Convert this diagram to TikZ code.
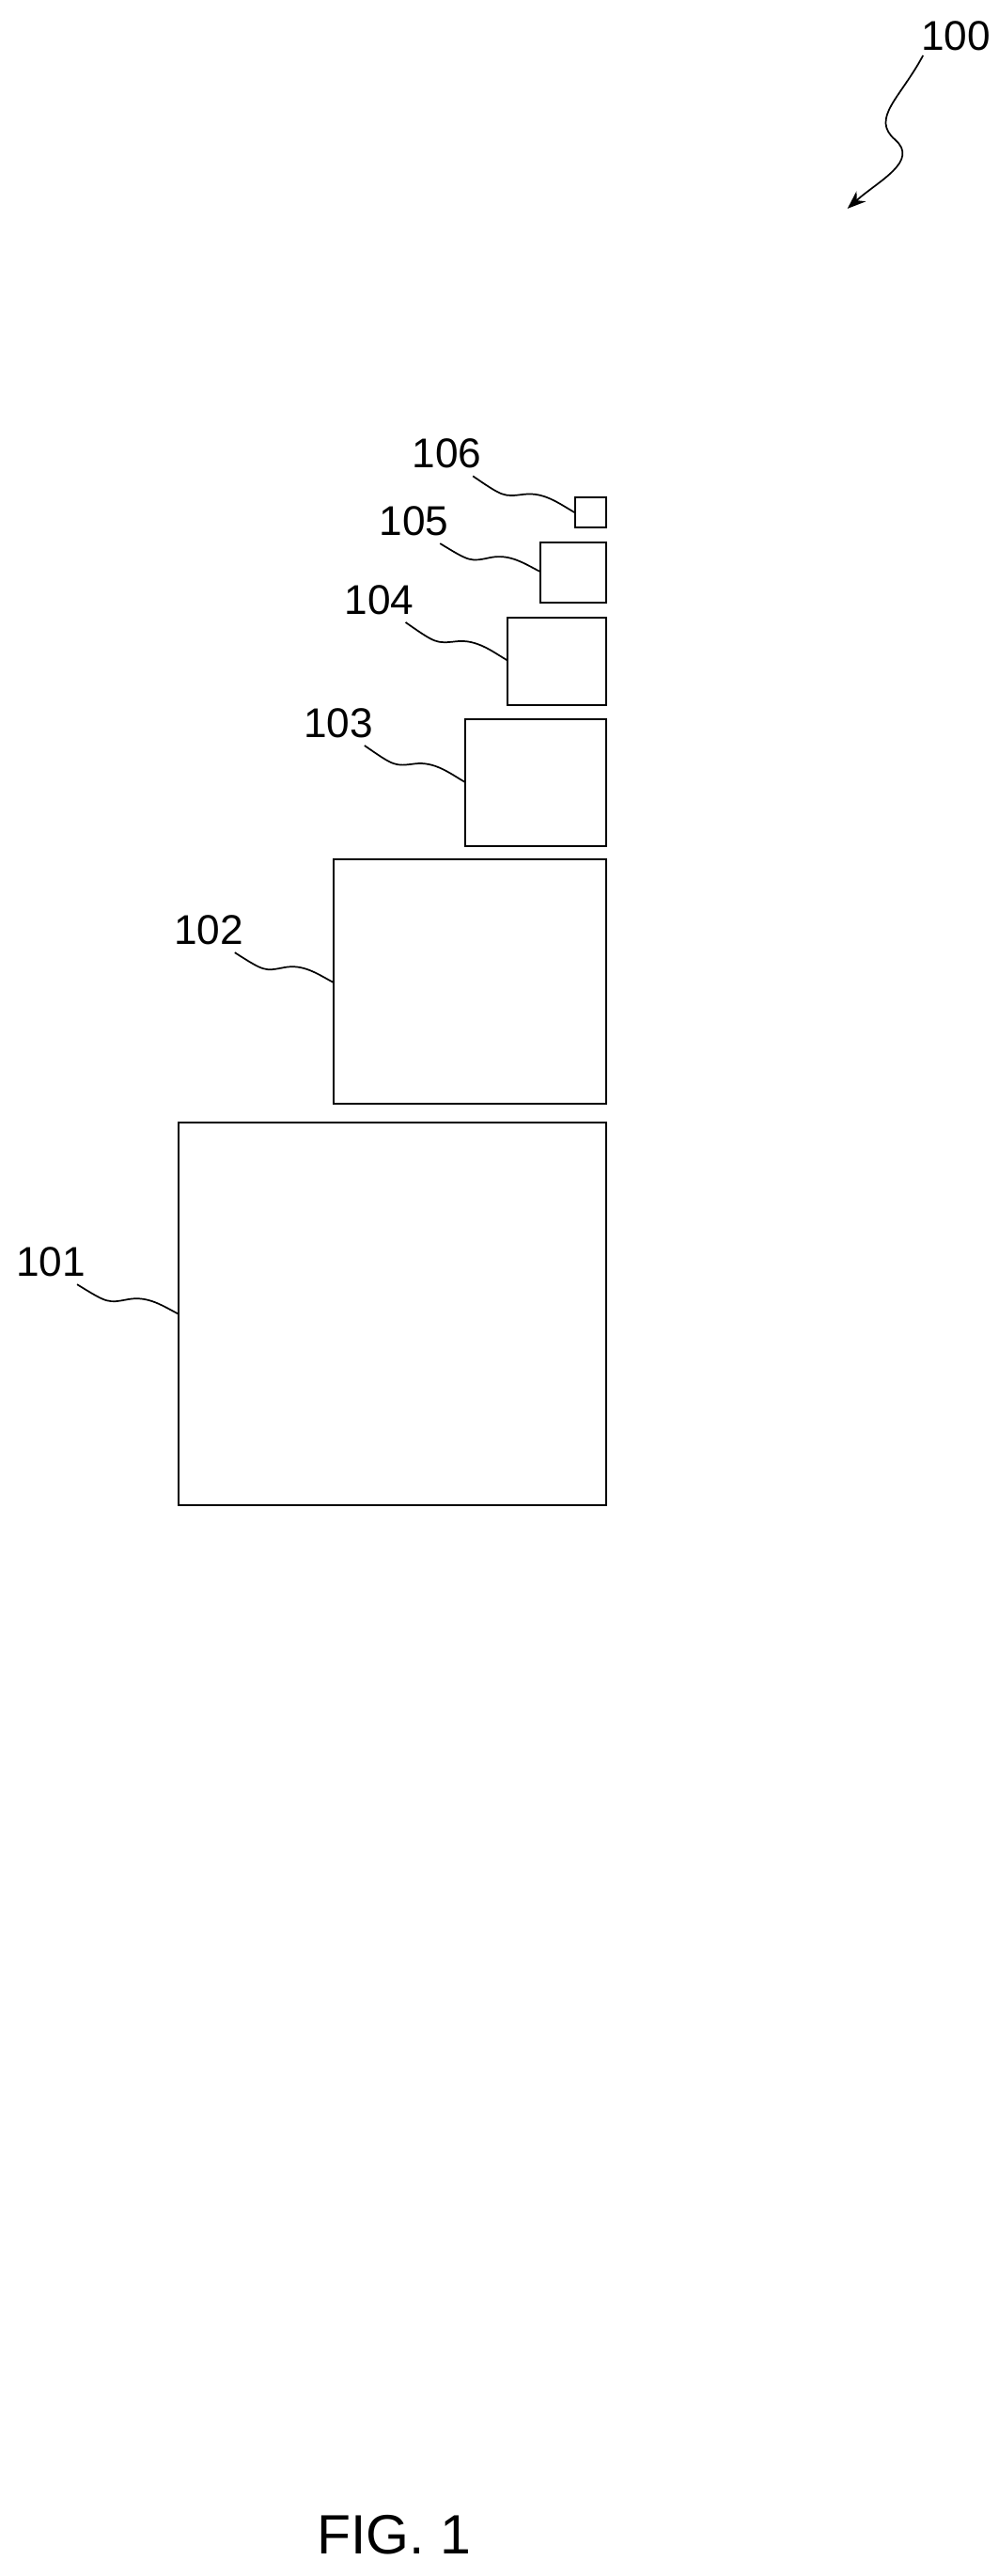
\documentclass[tikz,border=0pt]{standalone}
\usepackage{fontspec}
\setmainfont{Liberation Sans}
\usetikzlibrary{arrows.meta, calc}

\tikzset{
    box/.style={draw, line width=1.6pt, inner sep=0pt},
    refnum/.style={font=\fontsize{36}{40}\selectfont, inner sep=1pt},
    lead/.style={line width=1.4pt}
}
% wavy leader line from a label to its part
\newcommand{\leader}[2]{%
    \draw [lead] (#1) .. controls ($(#1)!0.3!(#2)+(0,6)$) and ($(#1)!0.3!(#2)+(0,6)$) .. ($(#1)!0.5!(#2)$)
        .. controls ($(#1)!0.7!(#2)+(0,-6)$) and ($(#1)!0.85!(#2)+(0,-2)$) .. (#2);}

\begin{document}
\begin{tikzpicture}[x=0.05cm, y=-0.05cm]
    \useasboundingbox (0,0) rectangle (608,1568);
    % parts
    \draw [box] (109,683) rectangle (369,916);
    \draw [box] (203,523) rectangle (369,672);
    \draw [box] (283,438) rectangle (369,515);
    \draw [box] (309,376) rectangle (369,429);
    \draw [box] (329,330) rectangle (369,367);
    \draw [box] (350,303) rectangle (369,321);
    \coordinate (p101) at (109,800);
    \coordinate (p102) at (203,598);
    \coordinate (p103) at (283,476);
    \coordinate (p104) at (309,402);
    \coordinate (p105) at (329,348);
    \coordinate (p106) at (350,312);
    % labels
    \node [refnum] (l101) at (31,768) {101};
    \node [refnum] (l102) at (127,566) {102};
    \node [refnum] (l103) at (206,440) {103};
    \node [refnum] (l104) at (231,365) {104};
    \node [refnum] (l105) at (252,317) {105};
    \node [refnum] (l106) at (272,276) {106};
    \node [refnum] (l100) at (582,22) {100};
    \leader{$(l101.south east)+(-6,4)$}{p101}
    \leader{$(l102.south east)+(-6,4)$}{p102}
    \leader{$(l103.south east)+(-6,4)$}{p103}
    \leader{$(l104.south east)+(-6,4)$}{p104}
    \leader{$(l105.south east)+(-6,4)$}{p105}
    \leader{$(l106.south east)+(-6,4)$}{p106}
    % overall reference arrow
    \coordinate (a100) at (516,127);
    \draw [lead, -{Stealth[length=16pt, width=12pt]}] ($(l100.south west)+(2,2)$)
        .. controls (548,60) and (530,72) .. (545,85)
        .. controls (560,98) and (535,110) .. (a100);
    \node [font=\fontsize{48}{52}\selectfont] (fig) at (240,1543) {FIG. 1};
\end{tikzpicture}
\end{document}
